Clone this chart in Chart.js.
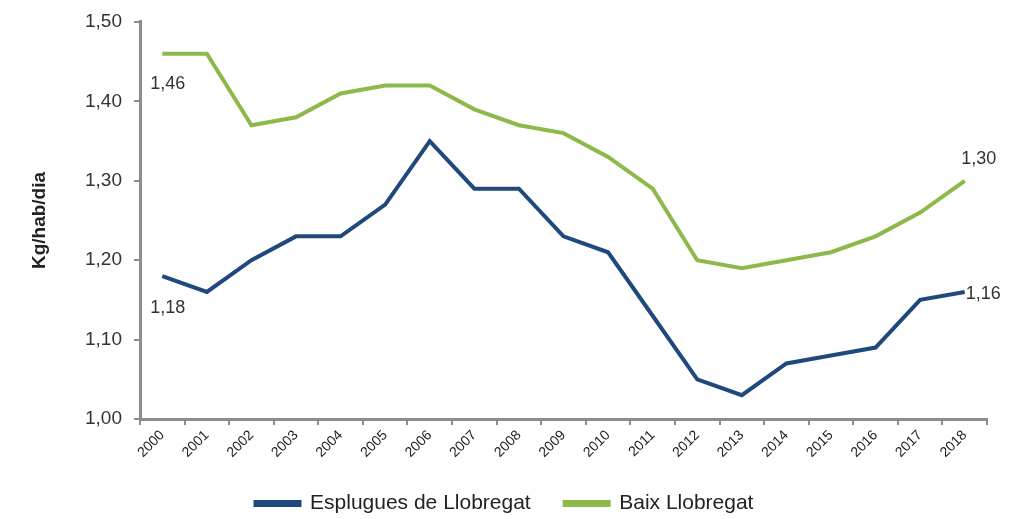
<!DOCTYPE html>
<html>
<head>
<meta charset="utf-8">
<script src="https://cdn.jsdelivr.net/npm/chart.js@4"></script>
<style>
html,body{margin:0;padding:0;background:#fff;}
#wrap{width:1011px;height:519px;position:relative;}
</style>
</head>
<body>
<div id="wrap"><canvas id="c" width="1011" height="519"></canvas></div>
<script>
const years = ['2000','2001','2002','2003','2004','2005','2006','2007','2008','2009','2010','2011','2012','2013','2014','2015','2016','2017','2018'];
const esplugues = [1.18,1.16,1.20,1.23,1.23,1.27,1.35,1.29,1.29,1.23,1.21,1.13,1.05,1.03,1.07,1.08,1.09,1.15,1.16];
const baix = [1.46,1.46,1.37,1.38,1.41,1.42,1.42,1.39,1.37,1.36,1.33,1.29,1.20,1.19,1.20,1.21,1.23,1.26,1.30];
const yTicks = [1.00,1.10,1.20,1.30,1.40,1.50];
const seriesNames = ['Esplugues de Llobregat','Baix Llobregat'];
const yTitle = 'Kg/hab/dia';

const FONT = '"Liberation Sans", Arial, sans-serif';
const fmt = v => v.toFixed(2).replace('.', ',');

const labelPlugin = {
  id: 'pointLabels',
  afterDatasetsDraw(chart) {
    const ctx = chart.ctx;
    ctx.save();
    ctx.font = '18px ' + FONT;
    ctx.fillStyle = '#333';
    ctx.textBaseline = 'middle';
    const specs = [
      {ds:1, i:0, dx:-12, dy:30, align:'left'},
      {ds:1, i:18, dx:14, dy:-22, align:'center'},
      {ds:0, i:0, dx:-12, dy:32, align:'left'},
      {ds:0, i:18, dx:1, dy:2, align:'left'}
    ];
    specs.forEach(s => {
      const pt = chart.getDatasetMeta(s.ds).data[s.i];
      const v = chart.data.datasets[s.ds].data[s.i];
      ctx.textAlign = s.align;
      ctx.fillText(fmt(v), pt.x + s.dx, pt.y + s.dy);
    });
    ctx.restore();
  }
};

const legendFit = {
  id: 'legendFit',
  beforeInit(chart) {
    const lg = chart.legend;
    if (!lg) return;
    const orig = lg.fit;
    lg.fit = function() { orig.call(this); this.height = 60; };
  }
};

new Chart(document.getElementById('c'), {
  type: 'line',
  data: {
    labels: years,
    datasets: [
      {label: seriesNames[0], data: esplugues, borderColor: '#1f497d', backgroundColor: '#1f497d', borderWidth: 4, pointRadius: 0, tension: 0},
      {label: seriesNames[1], data: baix, borderColor: '#8db84a', backgroundColor: '#8db84a', borderWidth: 4, pointRadius: 0, tension: 0}
    ]
  },
  options: {
    responsive: false,
    animation: false,
    layout: {padding: {left: 22, right: 24, top: 7, bottom: 0}},
    plugins: {
      legend: {
        position: 'bottom',
        labels: {
          boxWidth: 44, boxHeight: 3, padding: 34,
          color: '#222',
          font: {size: 21, family: FONT}
        }
      },
      tooltip: {enabled: false}
    },
    scales: {
      x: {
        offset: true,
        grid: {display: true, drawOnChartArea: false, color: '#8c8c8c', lineWidth: 2, tickLength: 6, offset: true},
        border: {display: true, color: '#8c8c8c', width: 3},
        ticks: {
          color: '#1a1a1a', minRotation: 45, maxRotation: 45, padding: 2,
          font: {size: 14, family: FONT}
        },
        afterFit(scale) { scale.height = 40; }
      },
      y: {
        min: 1.0, max: 1.5,
        afterBuildTicks(scale) { scale.ticks = yTicks.map(v => ({value: v})); },
        grid: {display: true, drawOnChartArea: false, color: '#8c8c8c', lineWidth: 2, tickLength: 6},
        border: {display: true, color: '#8c8c8c', width: 3},
        ticks: {
          color: '#333', padding: 12,
          font: {size: 19, family: FONT, lineHeight: 1.05},
          callback: v => fmt(v)
        },
        title: {
          display: true, text: yTitle, color: '#222', padding: {top: 6, bottom: 20},
          font: {size: 19, weight: 'bold', family: FONT}
        },
        afterFit(scale) { scale.width = 118; }
      }
    }
  },
  plugins: [labelPlugin, legendFit]
});
</script>
</body>
</html>
